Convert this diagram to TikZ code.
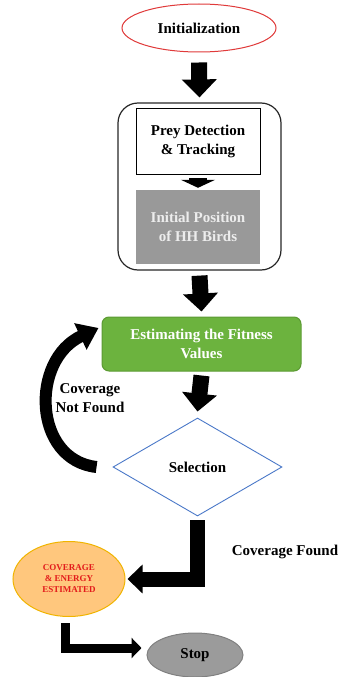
\documentclass[tikz,border=0pt]{standalone}
\usepackage{fontspec}
\setmainfont{Liberation Serif}
\usetikzlibrary{shapes.geometric,arrows.meta}
\definecolor{initred}{HTML}{E03A3A}
\definecolor{posgray}{HTML}{999999}
\definecolor{fitgreen}{HTML}{6CB33E}
\definecolor{fitedge}{HTML}{5C9A33}
\definecolor{selblue}{HTML}{4A78C8}
\definecolor{covfill}{HTML}{FFC77D}
\definecolor{covedge}{HTML}{F0B400}
\definecolor{covtext}{HTML}{E31B1B}
\definecolor{stopgray}{HTML}{9B9B9B}
\begin{document}
\begin{tikzpicture}[x=1pt,y=-1pt,
  txt/.style={font=\bfseries\fontsize{15}{19}\selectfont, align=center, inner sep=0pt},
  bigarrow/.style={line width=16pt, -{Triangle[width=34pt,length=18pt]}}]
  \useasboundingbox (0,0) rectangle (340,677);
  \node[txt, ellipse, draw=initred, line width=1pt, fill=white, minimum width=154pt, minimum height=48pt] (init) at (199,28) {Initialization};
  \node[draw=black!85, line width=1.2pt, rounded corners=20pt, minimum width=163pt, minimum height=167pt] (grp) at (199.5,186.5) {};
  \node[txt, draw, line width=0.8pt, minimum width=124pt, minimum height=66pt] (prey) at (198,141) {Prey Detection\\\& Tracking};
  \node[txt, fill=posgray, text=black!7, minimum width=124pt, minimum height=74pt] (initpos) at (198,227) {Initial Position\\of HH Birds};
  \node[txt, fill=fitgreen, draw=fitedge, line width=1pt, rounded corners=7pt, text=white, minimum width=199pt, minimum height=54pt] (fit) at (201.5,344) {Estimating the Fitness\\Values};
  \node[txt, diamond, aspect=1.72, draw=selblue, line width=0.9pt, minimum width=169pt, minimum height=98pt] (sel) at (197.5,467) {Selection};
  \node[txt, ellipse, fill=covfill, draw=covedge, line width=1pt, text=covtext, font=\bfseries\fontsize{9}{11}\selectfont, minimum width=112pt, minimum height=75pt] (cov) at (69,579) {COVERAGE\\\& ENERGY\\ESTIMATED};
  \node[txt, ellipse, fill=stopgray, draw=black!50, line width=1pt, minimum width=96pt, minimum height=44pt] (stop) at (195,655) {Stop};
  \node[txt] (notfound) at (90,398) {Coverage\\Not Found};
  \node[txt] (found) at (285,552) {Coverage Found};
  \draw[bigarrow] ([yshift=-10pt]init.south) -- ([yshift=5pt]grp.north);
  \draw[line width=18pt, -{Triangle[width=34pt,length=8pt]}] ([yshift=-4pt]prey.south) -- ([yshift=2pt]initpos.north);
  \draw[bigarrow] ([yshift=-5pt]grp.south) -- ([yshift=5pt]fit.north);
  \draw[bigarrow] ([yshift=-4pt]fit.south) -- ([yshift=6pt]sel.north);
  \draw[line width=12pt, -{Triangle[width=28pt,length=20pt]}] ([xshift=-16pt]sel.west) .. controls (33,460) and (30,360) .. ([xshift=-3pt,yshift=16pt]fit.west);
  \draw[line width=15pt, -{Triangle[width=28pt,length=15pt]}] ([yshift=-4pt]sel.south) |- ([xshift=2pt]cov.east);
  \draw[line width=9pt, -{Triangle[width=20pt,length=10pt]}] ([xshift=-4pt,yshift=-6pt]cov.south) |- ([xshift=-5pt,yshift=7pt]stop.west);
\end{tikzpicture}
\end{document}
